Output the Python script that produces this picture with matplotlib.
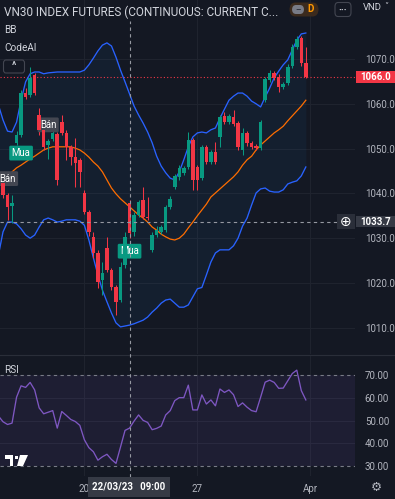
import numpy as np
import matplotlib
matplotlib.use('Agg')
import matplotlib.pyplot as plt
from matplotlib.patches import Rectangle, FancyBboxPatch, Polygon
from matplotlib.lines import Line2D
import matplotlib.transforms as mtrans

plt.rcParams['font.family'] = ['Roboto', 'DejaVu Sans']

# ---------------- data (hourly candles, 14/03 11:00 .. 31/03 14:00) ----------------
opens = [1042.3, 1039.6, 1037.2, 1051.3, 1053.0, 1062.4, 1062.0, 1066.4, 1057.5, 1054.2,
         1050.8, 1052.1, 1053.3, 1055.9, 1053.5, 1050.4, 1048.1, 1047.5, 1040.1, 1035.8,
         1030.3, 1026.7, 1020.7, 1027.8, 1022.9, 1019.1, 1016.2, 1024.0, 1037.9, 1031.4,
         1035.2, 1038.5, 1034.7, 1027.4, 1030.7, 1031.4, 1031.8, 1037.0, 1041.4, 1043.7,
         1044.6, 1045.9, 1051.9, 1045.9, 1043.4, 1050.4, 1047.0, 1049.2, 1052.6, 1057.3,
         1055.9, 1057.1, 1055.7, 1049.7, 1053.5, 1051.3, 1050.6, 1050.1, 1060.8, 1065.3,
         1066.9, 1066.0, 1063.8, 1064.6, 1068.4, 1072.7, 1074.7, 1069.1]
closes = [1039.6, 1037.0, 1037.9, 1053.0, 1062.4, 1061.5, 1065.8, 1062.4, 1054.2, 1050.4,
          1051.7, 1053.5, 1043.0, 1053.5, 1050.4, 1048.1, 1046.8, 1044.8, 1035.8, 1031.4,
          1026.7, 1020.2, 1022.2, 1022.9, 1019.1, 1015.8, 1023.6, 1030.3, 1031.2, 1035.2,
          1038.1, 1034.7, 1034.5, 1030.7, 1031.8, 1032.5, 1037.0, 1038.8, 1043.9, 1045.7,
          1045.7, 1051.9, 1043.0, 1043.0, 1050.4, 1047.0, 1049.2, 1047.0, 1057.1, 1055.9,
          1057.3, 1055.5, 1050.4, 1053.5, 1051.3, 1050.4, 1050.1, 1055.9, 1065.5, 1066.9,
          1065.8, 1063.8, 1064.4, 1068.2, 1072.7, 1074.5, 1069.1, 1066.0]
highs = [1043.0, 1040.1, 1039.6, 1053.9, 1063.1, 1063.5, 1068.2, 1066.9, 1059.1, 1054.6,
         1052.1, 1053.9, 1053.7, 1057.5, 1054.2, 1050.8, 1052.4, 1047.9, 1040.8, 1036.3,
         1031.4, 1027.4, 1024.7, 1030.3, 1023.3, 1019.6, 1024.7, 1031.4, 1038.5, 1035.8,
         1038.5, 1041.4, 1039.2, 1031.4, 1032.7, 1032.9, 1037.4, 1039.4, 1044.3, 1046.3,
         1046.1, 1053.7, 1052.4, 1046.3, 1050.8, 1050.8, 1049.7, 1051.5, 1057.5, 1058.2,
         1057.7, 1058.6, 1056.2, 1054.6, 1053.9, 1051.7, 1051.0, 1056.4, 1066.0, 1067.5,
         1067.3, 1066.7, 1064.9, 1068.9, 1073.3, 1075.1, 1075.1, 1072.7]
lows = [1039.0, 1034.1, 1033.4, 1050.8, 1052.6, 1061.1, 1061.5, 1062.0, 1053.0, 1049.7,
        1047.7, 1051.7, 1041.9, 1053.0, 1047.5, 1046.3, 1041.4, 1041.4, 1035.4, 1030.5,
        1025.6, 1018.9, 1017.3, 1022.5, 1018.4, 1012.9, 1015.8, 1023.3, 1030.0, 1030.5,
        1034.7, 1034.3, 1034.1, 1026.9, 1030.3, 1030.9, 1031.4, 1036.5, 1041.0, 1043.0,
        1044.1, 1045.4, 1040.8, 1040.8, 1043.0, 1046.6, 1046.6, 1046.6, 1050.4, 1055.5,
        1055.5, 1055.0, 1049.7, 1048.6, 1050.6, 1049.9, 1049.7, 1049.7, 1060.4, 1064.9,
        1065.3, 1062.6, 1063.3, 1064.2, 1068.0, 1072.2, 1068.4, 1065.8]

# Bollinger bands and RSI start one bar before the first visible candle
bb_upper = [1059.7, 1056.4, 1053.9, 1053.7, 1055.9, 1060.8, 1064.9, 1066.7, 1067.1, 1067.1,
            1066.7, 1066.9, 1067.0, 1067.1, 1067.1, 1067.1, 1067.1, 1067.1, 1067.1, 1067.5,
            1068.7, 1070.2, 1071.8, 1073.1, 1073.6, 1072.9, 1070.4, 1067.5, 1064.9, 1062.2,
            1059.5, 1057.5, 1055.7, 1053.7, 1051.3, 1048.3, 1046.1, 1044.6, 1043.4, 1043.0,
            1044.8, 1047.5, 1050.4, 1052.6, 1053.5, 1053.7, 1053.5, 1054.2, 1054.6, 1056.8,
            1058.8, 1060.8, 1061.7, 1062.4, 1062.4, 1061.7, 1060.6, 1060.0, 1059.3, 1061.5,
            1063.5, 1065.8, 1067.3, 1068.7, 1069.8, 1072.0, 1074.2, 1075.6, 1075.8]
bb_basis = [1041.7, 1042.5, 1043.7, 1044.8, 1045.7, 1046.3, 1047.0, 1047.7, 1048.3, 1049.0,
            1049.7, 1050.1, 1050.4, 1050.4, 1050.4, 1050.4, 1050.4, 1050.1, 1049.7, 1049.0,
            1048.1, 1047.0, 1046.1, 1044.8, 1043.0, 1041.2, 1039.9, 1038.8, 1037.9, 1037.0,
            1036.1, 1035.2, 1034.5, 1033.6, 1032.5, 1031.8, 1030.9, 1030.3, 1029.8, 1029.6,
            1030.0, 1030.9, 1032.3, 1033.6, 1035.0, 1036.3, 1037.6, 1039.2, 1040.1, 1041.0,
            1041.9, 1042.8, 1043.7, 1044.8, 1046.3, 1047.5, 1048.3, 1049.7, 1050.8, 1051.7,
            1052.6, 1053.5, 1054.2, 1055.0, 1056.2, 1057.3, 1058.4, 1059.5, 1060.8]
bb_lower = [1026.3, 1031.4, 1033.6, 1033.6, 1033.2, 1032.1, 1030.7, 1030.0, 1030.7, 1032.5,
            1034.1, 1034.5, 1034.1, 1033.6, 1033.8, 1034.1, 1034.1, 1034.1, 1033.8, 1032.9,
            1029.6, 1025.6, 1021.8, 1018.4, 1015.8, 1013.3, 1011.1, 1010.2, 1010.4, 1010.6,
            1010.9, 1011.3, 1011.7, 1012.4, 1013.5, 1014.4, 1015.5, 1016.2, 1016.4, 1015.5,
            1014.6, 1014.6, 1015.1, 1016.9, 1018.7, 1019.0, 1021.8, 1024.7, 1026.7, 1027.4,
            1027.4, 1027.4, 1028.3, 1030.0, 1032.7, 1034.5, 1037.4, 1040.1, 1041.0, 1041.2,
            1040.5, 1040.3, 1040.3, 1040.8, 1042.1, 1042.5, 1042.8, 1043.9, 1045.9]
rsi = [52.0, 49.5, 48.3, 48.9, 60.3, 65.3, 64.6, 66.8, 63.5, 55.6,
       53.0, 53.7, 54.4, 46.7, 54.0, 52.3, 50.5, 49.6, 47.9, 41.6,
       38.1, 36.3, 32.6, 34.1, 35.2, 32.9, 31.2, 38.4, 45.7, 46.7,
       49.8, 52.5, 50.1, 49.2, 46.0, 46.6, 47.6, 52.5, 54.4, 58.8,
       60.1, 60.1, 65.6, 54.7, 54.7, 61.3, 57.3, 59.1, 56.5, 63.9,
       62.4, 63.5, 61.4, 56.2, 57.8, 55.9, 54.4, 53.9, 60.3, 66.9,
       67.8, 66.8, 64.2, 64.3, 67.5, 70.7, 72.2, 63.2, 59.1]

price_ticks = [1010, 1020, 1030, 1040, 1050, 1060, 1070]
rsi_ticks = [30, 40, 50, 60, 70]
date_tick_idx = [18, 43, 68]
date_tick_labels = ['20', '27', 'Apr']

signal_text = ['Bán', 'Mua', 'Bán', 'Mua']
signal_idx = [1, 4, 10, 28]
signal_price = [1043.3, 1049.0, 1055.3, 1027.1]
signal_kind = ['sell', 'buy', 'sell', 'buy']

last_price = 1066.0
cross_idx = 28
cross_price = 1033.7
cross_date = '22/03/23   09:00'
title = 'VN30 INDEX FUTURES (CONTINUOUS: CURRENT C...'

# ---------------- styling ----------------
W, H = 395, 499
BG = '#141823'
GREEN = '#089981'
RED = '#f23645'
BLUE = '#2962ff'
ORANGE = '#ff6d00'
PURPLE = '#7e57c2'
TXT = '#d1d4dc'
AXT = '#b2b5be'
GRID = '#1f232e'

fig = plt.figure(figsize=(W / 100, H / 100), dpi=100)
fig.patch.set_facecolor(BG)


def frect(x0, y0, x1, y1):
    return [x0 / W, 1 - y1 / H, (x1 - x0) / W, (y1 - y0) / H]


def fx(x):
    return x / W


def fy(y):
    return 1 - y / H


ax = fig.add_axes(frect(0, 0, 355, 354))
rax = fig.add_axes(frect(0, 356, 355, 476))
for a in (ax, rax):
    a.set_facecolor(BG)
    for s in a.spines.values():
        s.set_visible(False)
    a.set_xlim(-0.664, 77.88)
    a.set_xticks(date_tick_idx)
    for d in date_tick_idx:
        a.axvline(d, color=GRID, lw=0.8, zorder=0)

ax.set_ylim(1004.15, 1083.17)
rax.set_ylim(25.64, 78.42)

idx = np.arange(len(opens))
bidx = np.arange(-1, len(opens))
o = np.array(opens); c = np.array(closes); hi = np.array(highs); lo = np.array(lows)
cols = np.where(c >= o, GREEN, RED)

# grid / price axis
ax.set_yticks(price_ticks)
ax.set_yticklabels([f'{v:.1f}' for v in price_ticks])
ax.yaxis.tick_right()
ax.tick_params(axis='y', length=0, pad=7, labelsize=7, labelcolor=AXT)
ax.tick_params(axis='x', length=0, labelbottom=False)
for v in price_ticks:
    ax.axhline(v, color=GRID, lw=0.8, zorder=0)

# Bollinger bands
ax.fill_between(bidx, bb_lower, bb_upper, color='#2196f3', alpha=0.06, lw=0, zorder=1)
ax.plot(bidx, bb_upper, color=BLUE, lw=0.95, zorder=3)
ax.plot(bidx, bb_lower, color=BLUE, lw=0.95, zorder=3)
ax.plot(bidx, bb_basis, color=ORANGE, lw=0.9, zorder=3)

# signal labels (under candles)
for t, i, p, k in zip(signal_text, signal_idx, signal_price, signal_kind):
    fc = GREEN if k == 'buy' else '#434651'
    ax.text(i, p, t, ha='center', va='center', fontsize=6.9, color='white',
            bbox=dict(boxstyle='round,pad=0.25,rounding_size=0.15', fc=fc, ec='none'),
            zorder=4.5)

# candles
ax.vlines(idx, lo, hi, colors=cols, lw=0.75, zorder=4)
ax.bar(idx, np.maximum(np.abs(c - o), 0.25), bottom=np.minimum(o, c), width=0.78,
       color=cols, lw=0, zorder=5)

# last price line
ax.axhline(last_price, color=RED, lw=0.8, ls=(0, (1, 2)), zorder=2)

tr_fd = mtrans.blended_transform_factory(fig.transFigure, ax.transData)
ax.add_patch(Rectangle((356 / W, last_price - 1.3), 39 / W, 2.6, transform=tr_fd,
                       fc=RED, ec='none', clip_on=False, zorder=10))
ax.text(375.5 / W, last_price, f'{last_price:.1f}', transform=tr_fd, ha='center',
        va='center', fontsize=7, color='white', fontweight='bold', clip_on=False, zorder=11)

# crosshair horizontal
ax.plot([-0.664, 74.3], [cross_price, cross_price], color='#9598a1', lw=0.8,
        ls=(0, (3, 3)), zorder=6)
ax.add_patch(Rectangle((356 / W, cross_price - 1.3), 39 / W, 2.6, transform=tr_fd,
                       fc='#363a45', ec='none', clip_on=False, zorder=10))
ax.text(375.5 / W, cross_price, f'{cross_price:.1f}', transform=tr_fd, ha='center',
        va='center', fontsize=7, color='white', fontweight='bold', clip_on=False, zorder=11)
ax.add_patch(Rectangle((337 / W, cross_price - 1.6), 18 / W, 3.2, transform=tr_fd,
                       fc='#2a2e39', ec='none', clip_on=False, zorder=10))
ax.text(345.5 / W, cross_price, '⊕', transform=tr_fd, ha='center', va='center',
        fontsize=10, color='white', family=['DejaVu Sans'], clip_on=False, zorder=11)

# RSI pane
rax.axhspan(30, 70, color=PURPLE, alpha=0.1, lw=0, zorder=0)
for v in (40, 50, 60):
    rax.axhline(v, color='#2a2a40', lw=0.7, zorder=0.5)
for v in (30, 70):
    rax.axhline(v, color='#787b86', lw=0.8, ls=(0, (3, 3)), zorder=1)
rax.plot(bidx, rsi, color=PURPLE, lw=0.95, zorder=3)
rax.set_yticks(rsi_ticks)
rax.set_yticklabels([f'{v:.2f}' for v in rsi_ticks])
rax.yaxis.tick_right()
rax.tick_params(axis='y', length=0, pad=7, labelsize=7, labelcolor=AXT)
rax.set_xticklabels(date_tick_labels)
rax.tick_params(axis='x', length=0, pad=5.5, labelsize=7, labelcolor=AXT)

# crosshair vertical across both panes
tr_dx = mtrans.blended_transform_factory(ax.transData, fig.transFigure)
fig.add_artist(Line2D([cross_idx, cross_idx], [fy(477), fy(21)], transform=tr_dx,
                      color='#9598a1', lw=0.8, ls=(0, (3, 3)), zorder=6))

# pane separator
fig.add_artist(Line2D([0, 1], [fy(355), fy(355)], color='#2a2e39', lw=0.8))

# date label
fig.add_artist(Rectangle((fx(88), fy(497)), 82 / W, 20 / H, transform=fig.transFigure,
                         fc='#363a45', ec='none', zorder=10))
fig.text(fx(129), fy(487), cross_date, ha='center', va='center', fontsize=7,
         color='white', fontweight='bold', zorder=11)

# gear icon
fig.text(fx(376), fy(487), '⚙', ha='center', va='center', fontsize=9, color=AXT,
         family=['DejaVu Sans'])

# TradingView logo
fig.add_artist(Polygon([(fx(5), fy(455)), (fx(13), fy(455)), (fx(13), fy(466)),
                        (fx(9.5), fy(466)), (fx(9.5), fy(458.5)), (fx(5), fy(458.5))],
                       closed=True, transform=fig.transFigure, fc='white', ec='none'))
fig.add_artist(Polygon([(fx(20), fy(455)), (fx(28), fy(455)), (fx(23), fy(466)),
                        (fx(17), fy(466))], closed=True, transform=fig.transFigure,
                       fc='white', ec='none'))
fig.add_artist(Polygon([(fx(14.5), fy(455.5)), (fx(18), fy(455.5)), (fx(18), fy(459)),
                        (fx(14.5), fy(459))], closed=True, transform=fig.transFigure,
                       fc='white', ec='none'))

# header texts
fig.text(fx(4), fy(12), title, ha='left', va='center', fontsize=8.5, color=TXT)
fig.text(fx(4), fy(30), 'BB', ha='left', va='center', fontsize=7.2, color=TXT)
fig.text(fx(4), fy(48), 'CodeAI', ha='left', va='center', fontsize=7.2, color=TXT)
fig.add_artist(FancyBboxPatch((fx(3.5), fy(73)), 21 / W, 13 / H, transform=fig.transFigure,
                              boxstyle='round,pad=0,rounding_size=0.006', fc=BG,
                              ec='#434651', lw=0.8))
fig.text(fx(14), fy(66), '^', ha='center', va='center', fontsize=7, color=TXT,
         fontweight='bold')

# top-right buttons
fig.add_artist(FancyBboxPatch((fx(289.5), fy(16.5)), 29 / W, 14 / H,
                              transform=fig.transFigure,
                              boxstyle='round,pad=0,rounding_size=0.015',
                              fc='#3b2a1d', ec='none'))
fig.add_artist(FancyBboxPatch((fx(292), fy(14)), 12 / W, 9 / H, transform=fig.transFigure,
                              boxstyle='round,pad=0,rounding_size=0.01',
                              fc='#787b86', ec='none'))
fig.text(fx(298), fy(9.5), '–', ha='center', va='center', fontsize=6, color='#2a2e39',
         fontweight='bold')
fig.text(fx(311), fy(9.5), 'D', ha='center', va='center', fontsize=7, color='#ff9800',
         fontweight='bold')
fig.add_artist(FancyBboxPatch((fx(335), fy(16.5)), 16 / W, 14 / H,
                              transform=fig.transFigure,
                              boxstyle='round,pad=0,rounding_size=0.008',
                              fc=BG, ec='#434651', lw=0.8))
fig.text(fx(343), fy(9.5), '···', ha='center', va='center', fontsize=7, color=TXT,
         fontweight='bold')
fig.text(fx(363), fy(8), 'VND', ha='left', va='center', fontsize=6.8, color=TXT)
fig.text(fx(386), fy(7), '˅', ha='center', va='center', fontsize=6, color=TXT)

# RSI label
fig.text(fx(4), fy(370), 'RSI', ha='left', va='center', fontsize=7.2, color=TXT)

fig.savefig('out.png', dpi=100, facecolor=BG)
